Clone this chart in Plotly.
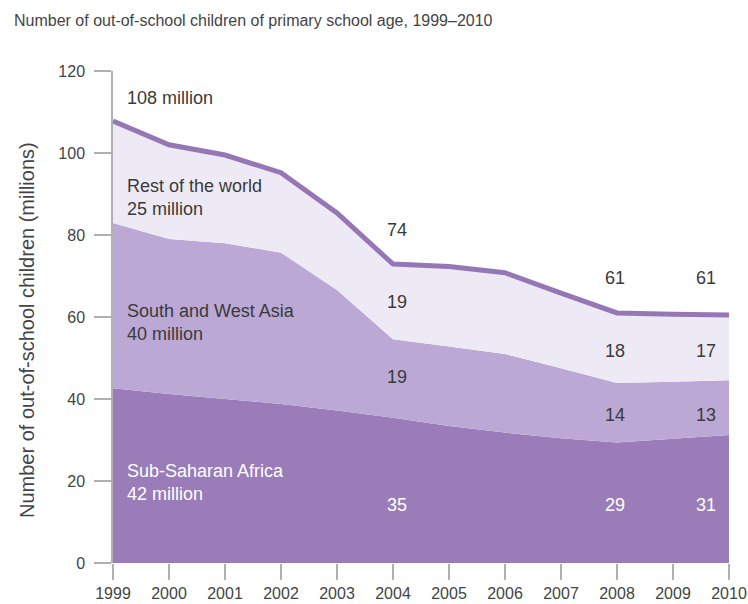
import plotly.graph_objects as go

years = [1999, 2000, 2001, 2002, 2003, 2004, 2005, 2006, 2007, 2008, 2009, 2010]
sub_saharan = [42.6, 41.2, 40.0, 38.8, 37.2, 35.4, 33.4, 31.8, 30.4, 29.4, 30.3, 31.2]
south_west_asia = [40.3, 37.8, 38.0, 36.9, 29.4, 19.2, 19.4, 19.2, 17.1, 14.5, 13.9, 13.4]
rest_of_world = [24.9, 23.0, 21.5, 19.5, 18.8, 18.3, 19.5, 19.8, 18.3, 17.1, 16.5, 15.9]
total = [107.8, 102.0, 99.5, 95.2, 85.4, 72.9, 72.3, 70.8, 65.8, 61.0, 60.7, 60.5]

region_labels = ["Sub-Saharan Africa<br>42 million", "South and West Asia<br>40 million",
                 "Rest of the world<br>25 million", "108 million"]
label_y = [19.6, 58.7, 89.1, 113.4]
label_colors = ["white", "#3a3a3a", "#3a3a3a", "#3a3a3a"]

# value labels: columns near 2004, 2008, 2010; rows SSA, SWA, RotW, total
value_cols_x = [2004.07, 2007.96, 2009.59]
value_text = [
    ["35", "19", "19", "74"],
    ["29", "14", "18", "61"],
    ["31", "13", "17", "61"],
]
value_y = [
    [14.1, 45.4, 63.7, 81.2],
    [14.1, 36.1, 51.7, 69.5],
    [14.1, 36.1, 51.7, 69.5],
]

FONT = "Liberation Sans, Arial, sans-serif"
DARK = "#3a3a3a"
W, H = 748, 604

fig = go.Figure()
fig.add_trace(go.Scatter(x=years, y=sub_saharan, stackgroup="s", mode="none",
                         fillcolor="#9a7cb9", name="Sub-Saharan Africa"))
fig.add_trace(go.Scatter(x=years, y=south_west_asia, stackgroup="s", mode="none",
                         fillcolor="#bba8d4", name="South and West Asia"))
fig.add_trace(go.Scatter(x=years, y=rest_of_world, stackgroup="s", mode="none",
                         fillcolor="#eeeaf5", name="Rest of the world"))
fig.add_trace(go.Scatter(x=years, y=total, mode="lines",
                         line=dict(color="#9677b5", width=5), name="Total"))

annotations = []
for txt, yy, col in zip(region_labels, label_y, label_colors):
    annotations.append(dict(x=1999.21, y=yy, xref="x", yref="y", text=txt, showarrow=False,
                            xanchor="left", yanchor="middle", align="left",
                            font=dict(family=FONT, size=18, color=col)))
for cx, texts, ys in zip(value_cols_x, value_text, value_y):
    for i, (t, yy) in enumerate(zip(texts, ys)):
        annotations.append(dict(x=cx, y=yy, xref="x", yref="y", text=t, showarrow=False,
                                xanchor="center", yanchor="middle",
                                font=dict(family=FONT, size=18,
                                          color="white" if i == 0 else DARK)))
annotations.append(dict(x=(27 - 113) / 616, y=(563 - 330) / 492, xref="paper", yref="paper",
                        text="Number of out-of-school children (millions)", showarrow=False,
                        textangle=-90, xanchor="center", yanchor="middle",
                        font=dict(family=FONT, size=20, color="#444444")))

fig.update_layout(
    width=W, height=H,
    margin=dict(l=113, r=19, t=71, b=41, autoexpand=False),
    paper_bgcolor="white", plot_bgcolor="white",
    showlegend=False,
    hovermode=False,
    font=dict(family=FONT, size=17, color="#444444"),
    title=dict(text="Number of out-of-school children of primary school age, 1999\u20132010",
               x=14 / W, xanchor="left", xref="container", y=1 - 20 / H, yanchor="middle",
               yref="container",
               font=dict(family=FONT, size=16, color="#444444")),
    annotations=annotations,
)
fig.update_xaxes(range=[1999, 2010], tickmode="array", tickvals=years,
                 ticks="outside", ticklen=16, tickcolor="#b0b0b0", tickwidth=1.5,
                 showgrid=False, zeroline=False, showline=False, automargin=False,
                 tickfont=dict(family=FONT, size=16, color="#444444"))
fig.update_yaxes(range=[0, 120], tickvals=[0, 20, 40, 60, 80, 100, 120],
                 ticks="outside", ticklen=17, tickcolor="#b0b0b0", tickwidth=1.5,
                 showline=True, linecolor="#b0b0b0", linewidth=1.5, automargin=False,
                 showgrid=False, zeroline=False, ticklabelstandoff=6,
                 tickfont=dict(family=FONT, size=16, color="#444444"))

fig.write_html("out.html", config={"displayModeBar": False},
               post_script="document.body.style.margin='0';document.body.style.overflow='hidden';")
